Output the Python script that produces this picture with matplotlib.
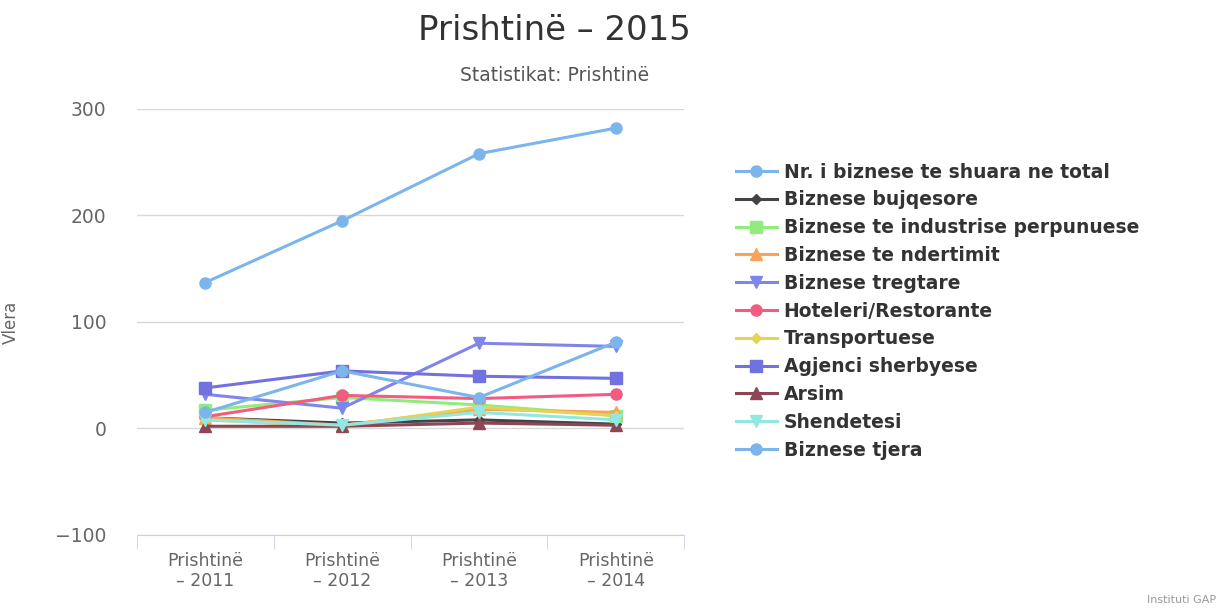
import numpy as np
import matplotlib
matplotlib.use('Agg')
import matplotlib.pyplot as plt

# categories and series
categories = ['Prishtinë\n– 2011', 'Prishtinë\n– 2012', 'Prishtinë\n– 2013', 'Prishtinë\n– 2014']
total = [137, 195, 258, 282]
bujqesore = [10, 5, 8, 4]
industri = [17, 29, 22, 12]
ndertimit = [10, 3, 18, 15]
tregtare = [32, 19, 80, 77]
hoteleri = [11, 31, 28, 32]
transport = [8, 2, 20, 12]
agjenci = [38, 54, 49, 47]
arsim = [2, 2, 5, 3]
shendetesi = [8, 3, 15, 8]
tjera = [15, 54, 29, 81]

names = ['Nr. i biznese te shuara ne total', 'Biznese bujqesore',
         'Biznese te industrise perpunuese', 'Biznese te ndertimit',
         'Biznese tregtare', 'Hoteleri/Restorante', 'Transportuese',
         'Agjenci sherbyese', 'Arsim', 'Shendetesi', 'Biznese tjera']
series = [total, bujqesore, industri, ndertimit, tregtare, hoteleri,
          transport, agjenci, arsim, shendetesi, tjera]
colors = ['#7cb5ec', '#434348', '#90ed7d', '#f7a35c', '#8085e9', '#f15c80',
          '#e4d354', '#7171e0', '#8d4654', '#91e8e1', '#7cb5ec']
markers = ['o', 'D', 's', '^', 'v', 'o', 'D', 's', '^', 'v', 'o']
msizes = [8, 5, 8, 8, 8, 8, 5, 8, 8, 8, 8]

fig = plt.figure(figsize=(12.22, 6.12), dpi=100)
ax = fig.add_axes([0.112, 0.126, 0.448, 0.696])

x = np.arange(len(categories))
for s, n, c, m, ms in zip(series, names, colors, markers, msizes):
    ax.plot(x, s, color=c, marker=m, markersize=ms, lw=2.2, label=n, zorder=3)

ax.set_xlim(-0.5, 3.5)
ax.set_ylim(-100, 300)
ax.set_yticks([-100, 0, 100, 200, 300])
ax.grid(axis='y', color='#d8d8d8', lw=1)
ax.set_axisbelow(True)
for sp in ['top', 'right', 'left']:
    ax.spines[sp].set_visible(False)
ax.spines['bottom'].set_color('#c8d2e0')

ax.set_xticks(x)
ax.set_xticklabels(categories, color='#666666', fontsize=12.5)
ax.set_xticks(np.arange(-0.5, 4, 1), minor=True)
ax.tick_params(axis='x', which='major', length=0, pad=12)
ax.tick_params(axis='x', which='minor', length=10, color='#c8d2e0')
ax.tick_params(axis='y', length=0, labelcolor='#666666', labelsize=13.5, pad=22)
ax.set_ylabel('Vlera', color='#666666', fontsize=12)
ax.yaxis.set_label_coords(-0.214, 0.5)

fig.text(0.454, 0.950, 'Prishtinë – 2015', ha='center', va='center',
         fontsize=24.5, color='#333333')
fig.text(0.454, 0.877, 'Statistikat: Prishtinë', ha='center', va='center',
         fontsize=13.5, color='#555555')
fig.text(0.995, 0.012, 'Instituti GAP', ha='right', va='bottom',
         fontsize=8, color='#999999')

leg = ax.legend(loc='upper left', bbox_to_anchor=(1.07, 0.905), frameon=False,
                prop={'weight': 'bold', 'size': 13.5}, labelspacing=0.47,
                handlelength=2.2, handletextpad=0.35, borderaxespad=0.3)
for t in leg.get_texts():
    t.set_color('#333333')

fig.savefig('out.png', dpi=100)
